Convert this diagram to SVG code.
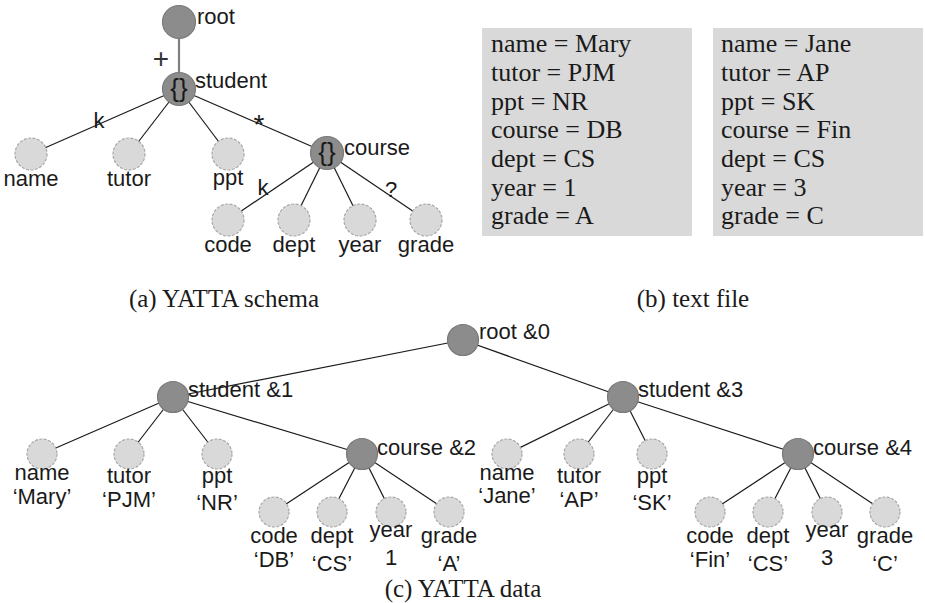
<svg xmlns="http://www.w3.org/2000/svg" width="925" height="603" viewBox="0 0 925 603">
<style>
.bg{fill:#ffffff}
.dark{fill:#8c8c8c;stroke:#7a7a7a;stroke-width:1.2}
.leaf{fill:#d9d9d9;stroke:#a8a8a8;stroke-width:1.2;stroke-dasharray:3 1.5}
.edge{stroke:#1a1a1a;stroke-width:1.2;fill:none}
.gedge{stroke:#808080;stroke-width:2.2;fill:none}
.lbl{font-family:"Liberation Sans",Arial,sans-serif;font-size:22px;fill:#1a1a1a}
.c{text-anchor:middle}
.brace{font-family:"Liberation Sans",Arial,sans-serif;font-size:26px;fill:#1a1a1a;text-anchor:middle}
.serif{font-family:"Liberation Serif","Times New Roman",serif;fill:#1a1a1a}
.tf{font-size:26px}
.cap{font-size:25px;text-anchor:middle}
.box{fill:#d9d9d9}
</style>
<rect class="bg" x="0" y="0" width="925" height="603"/>

<!-- (a) schema connectors -->
<g id="schema-edges">
<line class="gedge" x1="179" y1="22" x2="179" y2="89"/>
<line class="edge" x1="179" y1="89" x2="31" y2="154"/>
<line class="edge" x1="179" y1="89" x2="129" y2="154"/>
<line class="edge" x1="179" y1="89" x2="228" y2="154"/>
<line class="edge" x1="179" y1="89" x2="327" y2="153"/>
<line class="edge" x1="327" y1="153" x2="228" y2="220"/>
<line class="edge" x1="327" y1="153" x2="294" y2="220"/>
<line class="edge" x1="327" y1="153" x2="360" y2="220"/>
<line class="edge" x1="327" y1="153" x2="426" y2="220"/>
<text class="lbl c" x="161" y="68" style="font-size:28px;fill:#333">+</text>
<text class="lbl c" x="99" y="128">k</text>
<text class="lbl c" x="259" y="134" style="font-size:28px">*</text>
<text class="lbl c" x="263" y="195">k</text>
<text class="lbl c" x="391" y="197">?</text>
</g>

<g id="s-root"><circle class="dark" cx="179" cy="22" r="16.5"/><text class="lbl" x="197" y="24">root</text></g>
<g id="s-student"><circle class="dark" cx="179" cy="89" r="16.5"/><text class="brace" x="179" y="97">{}</text><text class="lbl" x="195" y="88">student</text></g>
<g id="s-name"><circle class="leaf" cx="31" cy="154" r="16"/><text class="lbl c" x="31" y="186">name</text></g>
<g id="s-tutor"><circle class="leaf" cx="129" cy="154" r="16"/><text class="lbl c" x="129" y="186">tutor</text></g>
<g id="s-ppt"><circle class="leaf" cx="228" cy="154" r="16"/><text class="lbl c" x="228" y="185">ppt</text></g>
<g id="s-course"><circle class="dark" cx="327" cy="153" r="16.5"/><text class="brace" x="327" y="161">{}</text><text class="lbl" x="344" y="155">course</text></g>
<g id="s-code"><circle class="leaf" cx="228" cy="220" r="16"/><text class="lbl c" x="228" y="252">code</text></g>
<g id="s-dept"><circle class="leaf" cx="294" cy="220" r="16"/><text class="lbl c" x="294" y="252">dept</text></g>
<g id="s-year"><circle class="leaf" cx="360" cy="220" r="16"/><text class="lbl c" x="360" y="252">year</text></g>
<g id="s-grade"><circle class="leaf" cx="426" cy="220" r="16"/><text class="lbl c" x="426" y="252">grade</text></g>
<text class="serif cap" x="224" y="307">(a) YATTA schema</text>

<!-- (b) text file -->
<g id="file-mary">
<rect class="box" x="482" y="28" width="210" height="208"/>
<text class="serif tf" x="491" y="52">name = Mary</text>
<text class="serif tf" x="491" y="81">tutor = PJM</text>
<text class="serif tf" x="491" y="110">ppt = NR</text>
<text class="serif tf" x="491" y="138">course = DB</text>
<text class="serif tf" x="491" y="167">dept = CS</text>
<text class="serif tf" x="491" y="196">year = 1</text>
<text class="serif tf" x="491" y="224">grade = A</text>
</g>
<g id="file-jane">
<rect class="box" x="713" y="28" width="210" height="208"/>
<text class="serif tf" x="721" y="52">name = Jane</text>
<text class="serif tf" x="721" y="81">tutor = AP</text>
<text class="serif tf" x="721" y="110">ppt = SK</text>
<text class="serif tf" x="721" y="138">course = Fin</text>
<text class="serif tf" x="721" y="167">dept = CS</text>
<text class="serif tf" x="721" y="196">year = 3</text>
<text class="serif tf" x="721" y="224">grade = C</text>
</g>
<text class="serif cap" x="693" y="307">(b) text file</text>

<!-- (c) data connectors -->
<g id="data-edges">
<line class="edge" x1="463" y1="340" x2="173" y2="397"/>
<line class="edge" x1="463" y1="340" x2="623" y2="397"/>
<line class="edge" x1="173" y1="397" x2="42" y2="454"/>
<line class="edge" x1="173" y1="397" x2="129" y2="454"/>
<line class="edge" x1="173" y1="397" x2="217" y2="454"/>
<line class="edge" x1="173" y1="397" x2="362" y2="454"/>
<line class="edge" x1="362" y1="454" x2="274" y2="512"/>
<line class="edge" x1="362" y1="454" x2="332" y2="512"/>
<line class="edge" x1="362" y1="454" x2="391" y2="512"/>
<line class="edge" x1="362" y1="454" x2="449" y2="512"/>
<line class="edge" x1="623" y1="397" x2="507" y2="454"/>
<line class="edge" x1="623" y1="397" x2="579" y2="454"/>
<line class="edge" x1="623" y1="397" x2="652" y2="454"/>
<line class="edge" x1="623" y1="397" x2="798" y2="454"/>
<line class="edge" x1="798" y1="454" x2="710" y2="512"/>
<line class="edge" x1="798" y1="454" x2="768" y2="512"/>
<line class="edge" x1="798" y1="454" x2="827" y2="512"/>
<line class="edge" x1="798" y1="454" x2="885" y2="512"/>
</g>

<g id="d-root"><circle class="dark" cx="463" cy="340" r="15.5"/><text class="lbl" x="479" y="339">root &amp;0</text></g>
<g id="d-student1"><circle class="dark" cx="173" cy="397" r="15.5"/><text class="lbl" x="188" y="397">student &amp;1</text></g>
<g id="d-name1"><circle class="leaf" cx="42" cy="454" r="15"/><text class="lbl c" x="42" y="480">name</text><text class="lbl c" x="42" y="504">‘Mary’</text></g>
<g id="d-tutor1"><circle class="leaf" cx="129" cy="454" r="15"/><text class="lbl c" x="129" y="483">tutor</text><text class="lbl c" x="129" y="507">‘PJM’</text></g>
<g id="d-ppt1"><circle class="leaf" cx="217" cy="454" r="15"/><text class="lbl c" x="217" y="483">ppt</text><text class="lbl c" x="217" y="510">‘NR’</text></g>
<g id="d-course2"><circle class="dark" cx="362" cy="454" r="15.5"/><text class="lbl" x="377" y="455">course &amp;2</text></g>
<g id="d-code2"><circle class="leaf" cx="274" cy="512" r="15"/><text class="lbl c" x="274" y="543">code</text><text class="lbl c" x="274" y="567">‘DB’</text></g>
<g id="d-dept2"><circle class="leaf" cx="332" cy="512" r="15"/><text class="lbl c" x="332" y="543">dept</text><text class="lbl c" x="332" y="571">‘CS’</text></g>
<g id="d-year2"><circle class="leaf" cx="391" cy="512" r="15"/><text class="lbl c" x="391" y="537">year</text><text class="lbl c" x="391" y="565">1</text></g>
<g id="d-grade2"><circle class="leaf" cx="449" cy="512" r="15"/><text class="lbl c" x="449" y="543">grade</text><text class="lbl c" x="449" y="571">‘A’</text></g>

<g id="d-student3"><circle class="dark" cx="623" cy="397" r="15.5"/><text class="lbl" x="638" y="397">student &amp;3</text></g>
<g id="d-name3"><circle class="leaf" cx="507" cy="454" r="15"/><text class="lbl c" x="507" y="480">name</text><text class="lbl c" x="507" y="503">‘Jane’</text></g>
<g id="d-tutor3"><circle class="leaf" cx="579" cy="454" r="15"/><text class="lbl c" x="579" y="483">tutor</text><text class="lbl c" x="579" y="507">‘AP’</text></g>
<g id="d-ppt3"><circle class="leaf" cx="652" cy="454" r="15"/><text class="lbl c" x="652" y="483">ppt</text><text class="lbl c" x="652" y="510">‘SK’</text></g>
<g id="d-course4"><circle class="dark" cx="798" cy="454" r="15.5"/><text class="lbl" x="813" y="455">course &amp;4</text></g>
<g id="d-code4"><circle class="leaf" cx="710" cy="512" r="15"/><text class="lbl c" x="710" y="543">code</text><text class="lbl c" x="710" y="567">‘Fin’</text></g>
<g id="d-dept4"><circle class="leaf" cx="768" cy="512" r="15"/><text class="lbl c" x="768" y="543">dept</text><text class="lbl c" x="768" y="571">‘CS’</text></g>
<g id="d-year4"><circle class="leaf" cx="827" cy="512" r="15"/><text class="lbl c" x="827" y="537">year</text><text class="lbl c" x="827" y="565">3</text></g>
<g id="d-grade4"><circle class="leaf" cx="885" cy="512" r="15"/><text class="lbl c" x="885" y="543">grade</text><text class="lbl c" x="885" y="571">‘C’</text></g>
<text class="serif cap" x="463" y="597">(c) YATTA data</text>
</svg>
